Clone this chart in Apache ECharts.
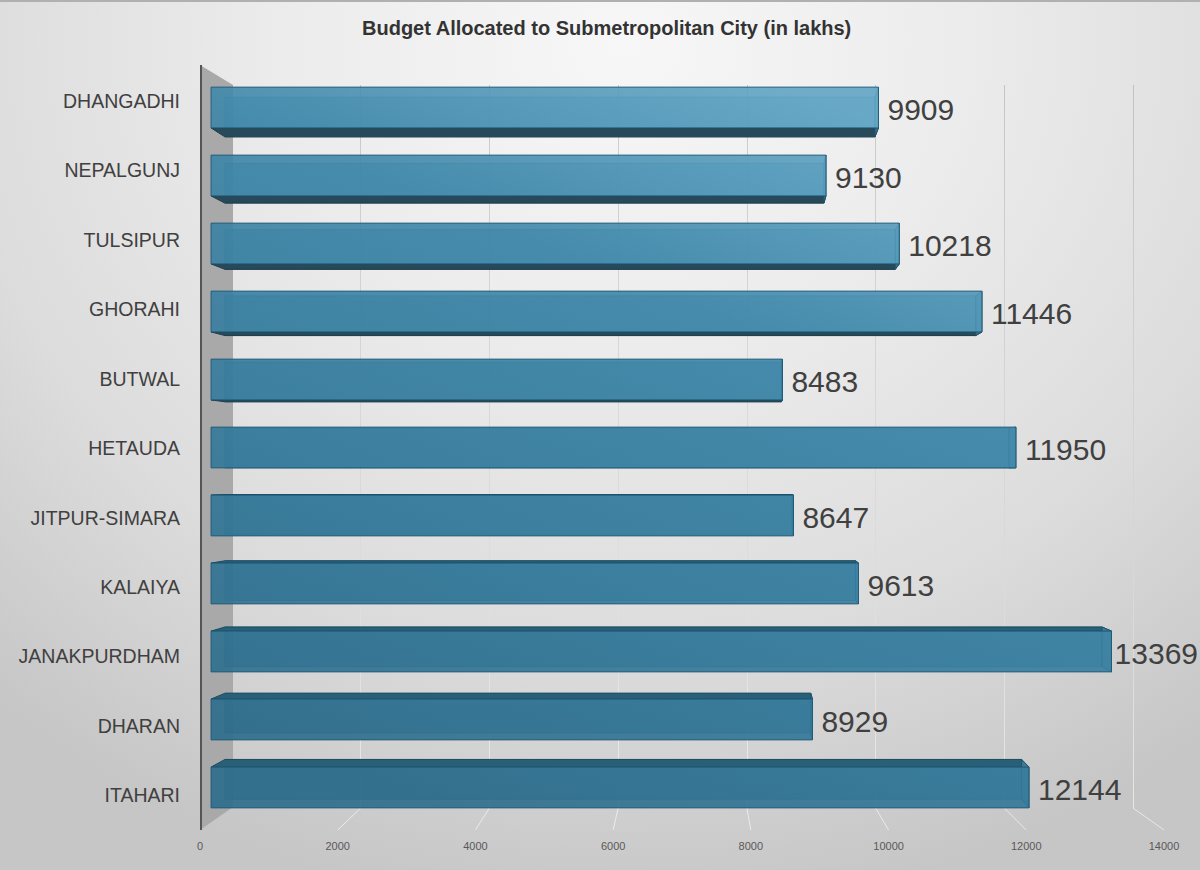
<!DOCTYPE html>
<html>
<head>
<meta charset="utf-8">
<script src="https://cdn.jsdelivr.net/npm/echarts@6/dist/echarts.min.js"></script>
<style>
html,body{margin:0;padding:0;}
#c{width:1200px;height:870px;background:radial-gradient(ellipse 80% 100% at 52% 5%, #f7f7f7 0%, #ececec 35%, #dcdcdc 70%, #c6c6c6 100%);}
</style>
</head>
<body>
<div id="c"></div>
<script>
const chartTitle = 'Budget Allocated to Submetropolitan City (in lakhs)';
const categories = ['DHANGADHI','NEPALGUNJ','TULSIPUR','GHORAHI','BUTWAL','HETAUDA','JITPUR-SIMARA','KALAIYA','JANAKPURDHAM','DHARAN','ITAHARI'];
const budget = [9909, 9130, 10218, 11446, 8483, 11950, 8647, 9613, 13369, 8929, 12144];
const tickValues = [0, 2000, 4000, 6000, 8000, 10000, 12000, 14000];

const axisMin = tickValues[0];
const axisMax = tickValues[tickValues.length - 1];
const axisStep = tickValues[1] - tickValues[0];

const chart = echarts.init(document.getElementById('c'), null, {renderer: 'svg'});

// perspective helpers (vanishing point & depth factor)
const VX = 746, VY = 473, K = 0.974;
function back(p) { return [VX + (p[0] - VX) * K, VY + (p[1] - VY) * K]; }

const frontGrad = new echarts.graphic.LinearGradient(500, 830, 800, 90, [
  {offset: 0, color: '#2c6c8b'},
  {offset: 0.35, color: '#347a9b'},
  {offset: 0.7, color: '#3f87a9'},
  {offset: 1, color: '#62a5c5'}
], true);

const LABEL_FONT = 30;
function renderBar(params, api) {
  const v = api.value(0), c = api.value(1);
  const s = api.coord([0, c]), e = api.coord([v, c]);
  const h = api.size([0, 1])[1] * 0.6;
  const A = [s[0], s[1] - h / 2], B = [e[0], s[1] - h / 2], C = [e[0], s[1] + h / 2], D = [s[0], s[1] + h / 2];
  const a = back(A), b = back(B), cc = back(C), d = back(D);
  const children = [];
  children.push({type: 'polygon', shape: {points: [a, b, cc, d]}, style: {fill: frontGrad, opacity: 0.55, stroke: '#1d5570', lineWidth: 1}});
  if (a[1] < A[1] - 0.5) {
    children.push({type: 'polygon', shape: {points: [A, B, b, a]}, style: {fill: '#2a5f78', stroke: '#1d4d63', lineWidth: 1}});
  }
  if (d[1] > D[1] + 0.5) {
    children.push({type: 'polygon', shape: {points: [D, C, cc, d]}, style: {fill: '#27495a', stroke: '#1d3d4a', lineWidth: 1}});
  }
  children.push({type: 'polygon', shape: {points: [B, C, cc, b]}, style: {fill: 'rgba(80,140,170,0.6)', stroke: '#1d5570', lineWidth: 1}});
  children.push({type: 'polygon', shape: {points: [A, B, C, D]}, style: {fill: frontGrad, opacity: 0.9, stroke: '#1f5a75', lineWidth: 1}});
  const txt = String(v);
  const tw = txt.length * LABEL_FONT * 0.556;
  const tx = Math.min(e[0] + 9, 1198 - tw);
  children.push({type: 'text', x: tx, y: s[1] + 2, style: {
    text: txt, fill: '#404040', fontSize: LABEL_FONT, fontFamily: '"Liberation Sans", Arial, sans-serif',
    align: 'left', verticalAlign: 'middle'
  }});
  return {type: 'group', children: children};
}

const option = {
  animation: false,
  title: {
    text: chartTitle, left: 357, top: 13,
    textStyle: {fontSize: 20, fontWeight: 'bold', color: '#333333', fontFamily: '"Liberation Sans", Arial, sans-serif'}
  },
  grid: [
    {left: 211, right: 46, top: 73.5, bottom: 48.5},
    {left: 232, right: 67, top: 85, bottom: 62},
    {left: 200, right: 36, top: 66.3, bottom: 40}
  ],
  xAxis: [
    {gridIndex: 0, type: 'value', min: axisMin, max: axisMax, interval: axisStep, show: false},
    {gridIndex: 1, type: 'value', min: axisMin, max: axisMax, interval: axisStep,
      axisLine: {show: false}, axisTick: {show: false}, axisLabel: {show: false},
      splitLine: {show: true, lineStyle: {width: 1, color: new echarts.graphic.LinearGradient(0, 85, 0, 808, [
        {offset: 0, color: 'rgba(150,150,150,0.45)'},
        {offset: 0.5, color: 'rgba(200,200,200,0.4)'},
        {offset: 1, color: 'rgba(255,255,255,0.6)'}
      ], true)}}},
    {gridIndex: 2, type: 'value', min: axisMin, max: axisMax, interval: axisStep,
      axisLine: {show: false}, axisTick: {show: false}, splitLine: {show: false},
      axisLabel: {fontSize: 11, color: '#595959', margin: 10, fontFamily: '"Liberation Sans", Arial, sans-serif',
        formatter: (val) => String(val)}}
  ],
  yAxis: [
    {gridIndex: 0, type: 'category', data: categories, inverse: true, show: false},
    {gridIndex: 1, type: 'category', data: categories, inverse: true, show: false},
    {gridIndex: 2, type: 'category', data: categories, inverse: true,
      axisLine: {show: false}, axisTick: {show: false}, splitLine: {show: false},
      axisLabel: {fontSize: 19.5, color: '#404040', margin: 20, fontFamily: '"Liberation Sans", Arial, sans-serif'}}
  ],
  graphic: [
    {type: 'rect', shape: {x: 0, y: 0, width: 1200, height: 2}, style: {fill: '#b0b0b0'}, z: 1},
    {type: 'polygon', shape: {points: [[200, 65], [233, 85], [233, 807], [200, 830]]}, style: {fill: '#a9a9a9'}, z: 1},
    {type: 'line', shape: {x1: 201, y1: 65, x2: 201, y2: 830}, style: {stroke: '#555555', lineWidth: 2}, z: 1}
  ],
  series: [{
    type: 'custom',
    name: 'Budget',
    xAxisIndex: 0, yAxisIndex: 0,
    renderItem: renderBar,
    encode: {x: 0, y: 1},
    clip: false,
    z: 3,
    data: budget.map((v, i) => [v, i])
  }]
};
chart.setOption(option);

// floor lines joining back-plane grid lines to the front tick positions
const floor = tickValues.slice(1).map((t, i) => {
  const xb = chart.convertToPixel({xAxisIndex: 1}, t);
  const xf = chart.convertToPixel({xAxisIndex: 2}, t);
  return {type: 'line', id: 'floor' + i, shape: {x1: xb, y1: 808, x2: xf, y2: 830},
    style: {stroke: 'rgba(255,255,255,0.6)', lineWidth: 1}, z: 1};
});
chart.setOption({graphic: floor});
</script>
</body>
</html>
